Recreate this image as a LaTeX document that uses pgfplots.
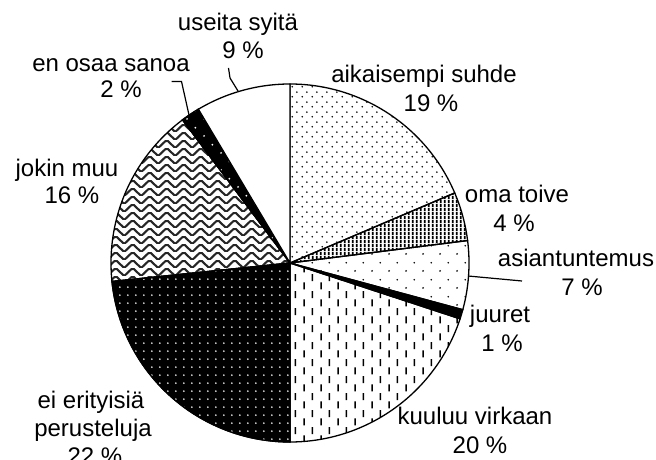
\documentclass[border=0pt]{standalone}
\usepackage{fontspec}
\setmainfont{Liberation Sans}
\usepackage{pgfplots}
\pgfplotsset{compat=1.18}
\usetikzlibrary{patterns}

% fill patterns (tiles in pt, picture scale 0.5pt per pixel)
\pgfdeclarepatternformonly{finedots}{\pgfqpoint{0pt}{0pt}}{\pgfqpoint{5pt}{5pt}}{\pgfqpoint{5pt}{5pt}}{%
  \pgfpathcircle{\pgfqpoint{1.25pt}{1.25pt}}{0.5pt}%
  \pgfpathcircle{\pgfqpoint{3.75pt}{3.75pt}}{0.5pt}%
  \pgfusepath{fill}}
\pgfdeclarepatternformonly{sparsedots}{\pgfqpoint{0pt}{0pt}}{\pgfqpoint{8.33pt}{8.33pt}}{\pgfqpoint{8.33pt}{8.33pt}}{%
  \pgfpathcircle{\pgfqpoint{2.08pt}{2.08pt}}{0.5pt}%
  \pgfpathcircle{\pgfqpoint{6.25pt}{6.25pt}}{0.5pt}%
  \pgfusepath{fill}}
\pgfdeclarepatternformonly{gridpts}{\pgfqpoint{0pt}{0pt}}{\pgfqpoint{4.17pt}{4.17pt}}{\pgfqpoint{4.17pt}{4.17pt}}{%
  \pgfpathcircle{\pgfqpoint{2.08pt}{2.08pt}}{0.5pt}%
  \pgfusepath{fill}}
\pgfdeclarepatternformonly{vstripes}{\pgfqpoint{0pt}{0pt}}{\pgfqpoint{2.08pt}{2pt}}{\pgfqpoint{2.08pt}{2pt}}{%
  \pgfpathrectangle{\pgfqpoint{0.54pt}{0pt}}{\pgfqpoint{1pt}{2pt}}%
  \pgfusepath{fill}}
\pgfdeclarepatternformonly{vdashes}{\pgfqpoint{0pt}{0pt}}{\pgfqpoint{8.33pt}{8.33pt}}{\pgfqpoint{8.33pt}{8.33pt}}{%
  \pgfpathrectangle{\pgfqpoint{1.7pt}{0.3pt}}{\pgfqpoint{0.8pt}{3.6pt}}%
  \pgfpathrectangle{\pgfqpoint{5.85pt}{4.45pt}}{\pgfqpoint{0.8pt}{3.6pt}}%
  \pgfusepath{fill}}
\pgfdeclarepatternformonly{zigzag}{\pgfqpoint{0pt}{0pt}}{\pgfqpoint{8.33pt}{4.17pt}}{\pgfqpoint{8.33pt}{4.17pt}}{%
  \pgfsetlinewidth{1.1pt}%
  \pgfpathmoveto{\pgfqpoint{-4.17pt}{0pt}}%
  \pgfpathlineto{\pgfqpoint{0pt}{4.17pt}}%
  \pgfpathlineto{\pgfqpoint{4.17pt}{0pt}}%
  \pgfpathlineto{\pgfqpoint{8.33pt}{4.17pt}}%
  \pgfpathlineto{\pgfqpoint{12.5pt}{0pt}}%
  \pgfusepath{stroke}}

% slice: start (% from top, clockwise), share (%), style
\newcommand{\pieslice}[3]{%
  \addplot[draw=black, line width=0.65pt, #3, domain={90-3.6*(#1+#2)}:{90-3.6*#1}, samples=80]
    ({290+179*cos(x)}, {196+179*sin(x)}) -- (axis cs:290,196) -- cycle;}

\begin{document}
\begin{tikzpicture}
\begin{axis}[
    name=ax,
    width=328pt, height=229.5pt,
    scale only axis,
    xmin=0, xmax=656, ymin=0, ymax=459,
    hide axis,
    clip=true,
    nodes={font=\fontsize{12}{14}\selectfont, inner sep=0pt, anchor=base},
]
\pieslice{0}{18.6}{pattern=finedots}                 % aikaisempi suhde
\pieslice{18.6}{4.4}{pattern=vstripes}               % oma toive
\pieslice{23.0}{6.2}{pattern=sparsedots}             % asiantuntemus
\pieslice{29.2}{0.85}{fill=black}                    % juuret
\pieslice{30.05}{19.95}{pattern=vdashes}             % kuuluu virkaan
\pieslice{50.0}{23.35}{fill=black, postaction={pattern=gridpts, pattern color=white}} % ei erityisiä perusteluja
\pieslice{73.35}{16.4}{pattern=zigzag, pattern color=black!85}  % jokin muu
\pieslice{89.75}{1.7}{fill=black, postaction={pattern=sparsedots, pattern color=white}} % en osaa sanoa
\pieslice{91.45}{8.55}{fill=white}                   % useita syitä

% leader lines
\addplot[black, line width=0.6pt] coordinates {(228.5,391) (230,381) (238,368)};
\addplot[black, line width=0.6pt] coordinates {(171.5,377.5) (181.5,377.5) (189,344)};
\addplot[black, line width=0.6pt] coordinates {(468,183) (522,178)};

% labels
\node at (axis cs:238,428) {useita syitä};
\node at (axis cs:243,400) {9 \%};
\node at (axis cs:424,376) {aikaisempi suhde};
\node at (axis cs:431,347) {19 \%};
\node at (axis cs:517,256) {oma toive};
\node at (axis cs:514,227) {4 \%};
\node at (axis cs:576,192) {asiantuntemus};
\node at (axis cs:582,163) {7 \%};
\node at (axis cs:500,136) {juuret};
\node at (axis cs:502,107) {1 \%};
\node at (axis cs:475,34) {kuuluu virkaan};
\node at (axis cs:480,6) {20 \%};
\node at (axis cs:91,50) {ei erityisiä};
\node at (axis cs:93,23) {perusteluja};
\node at (axis cs:95,-5) {22 \%};
\node at (axis cs:67,282) {jokin muu};
\node at (axis cs:72,255) {16 \%};
\node at (axis cs:111,387) {en osaa sanoa};
\node at (axis cs:121,361) {2 \%};
\end{axis}
\pgfresetboundingbox
\path[use as bounding box] (ax.south west) rectangle (ax.north east);
\end{tikzpicture}
\end{document}
